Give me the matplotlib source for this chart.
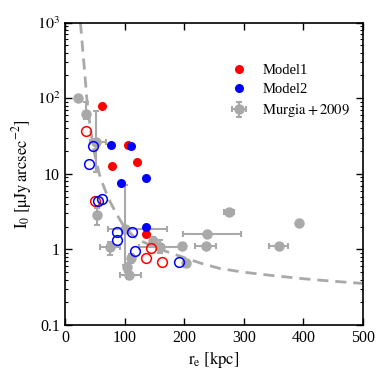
import matplotlib
matplotlib.use('Agg')
import matplotlib.pyplot as plt
from matplotlib.ticker import FixedLocator, FixedFormatter, LogLocator, NullFormatter

plt.rcParams['font.family'] = ['Liberation Serif', 'DejaVu Serif']
plt.rcParams['mathtext.fontset'] = 'stix'

# Murgia et al. 2009 halos: r_e [kpc], I0 [uJy/arcsec^2] and errors
murgia_r = [21.6, 35.6, 51.3, 53.6, 75, 101.5, 111, 104, 107.5, 148, 159, 197, 203, 236, 237.7, 275, 393.6, 359]
murgia_i = [100, 61, 26.7, 2.86, 1.09, 1.85, 0.77, 0.58, 0.46, 1.3, 1.09, 1.12, 0.66, 1.12, 1.6, 3.1, 2.26, 1.12]
murgia_xlo = [0, 0, 10, 0, 17, 30, 0, 0, 15, 0, 34, 0, 0, 17, 40, 8, 0, 16]
murgia_xhi = [0, 0, 18, 0, 17, 69, 0, 0, 20, 0, 39, 0, 0, 17, 57, 8, 0, 16]
murgia_ylo = [0, 8, 16, 0.75, 0.24, 1.23, 0.1, 0.08, 0.05, 0.15, 0.2, 0, 0, 0, 0, 0, 0, 0]
murgia_yhi = [0, 27, 40, 0.65, 0.18, 5.25, 0.1, 0.08, 0.05, 0.15, 0.24, 0, 0, 0, 0, 0, 0, 0]

# Model1 (red) filled / open
m1_r_fill = [62.6, 105.7, 78.8, 121.5, 136.7]
m1_i_fill = [79.8, 24.1, 12.8, 14.5, 1.59]
m1_r_open = [35.6, 49.7, 145, 135.5, 163.6]
m1_i_open = [36.9, 4.43, 1.06, 0.77, 0.69]

# Model2 (blue) filled / open
m2_r_fill = [77.7, 111.4, 94.6, 136.7, 136.7]
m2_i_fill = [24.1, 23.6, 7.65, 8.75, 2.0]
m2_r_open = [46.8, 40, 55.3, 62.6, 87.3, 87.3, 113, 117, 191.6]
m2_i_open = [23.4, 13.5, 4.43, 4.65, 1.69, 1.34, 1.69, 0.96, 0.69]

# dashed limit curve
curve_r = [26, 30, 33, 37, 43, 50, 58, 66, 75, 85, 100, 115, 130, 150, 175, 200, 230, 260, 300, 350, 400, 450, 500]
curve_i = [1000, 420, 230, 92, 38, 18, 9.7, 6.5, 4.4, 3.1, 1.95, 1.5, 1.27, 1.08, 0.91, 0.78, 0.65, 0.56, 0.5, 0.45, 0.41, 0.38, 0.355]

gray = '#a9a9a9'

fig = plt.figure(figsize=(3.82, 3.82), dpi=100)
ax = fig.add_axes([0.170, 0.149, 0.780, 0.792])

ax.plot(curve_r, curve_i, ls='--', color=gray, lw=2, dashes=(4, 2.5), zorder=1)

ax.errorbar(murgia_r, murgia_i, xerr=[murgia_xlo, murgia_xhi], yerr=[murgia_ylo, murgia_yhi],
            fmt='o', color=gray, ms=6.5, elinewidth=1.5, capsize=2.5, capthick=1.5,
            label=r'$\mathrm{Murgia+2009}$', zorder=2)

ax.plot(m1_r_fill, m1_i_fill, 'o', color='red', ms=6.5, mec='none', label='Model1', zorder=3)
ax.plot(m2_r_fill, m2_i_fill, 'o', color='blue', ms=6.5, mec='none', label='Model2', zorder=3)
ax.plot(m1_r_open, m1_i_open, 'o', mfc='none', mec='red', ms=7, mew=1.1, zorder=3)
ax.plot(m2_r_open, m2_i_open, 'o', mfc='none', mec='blue', ms=7, mew=1.1, zorder=3)

ax.set_xlim(0, 500)
ax.set_yscale('log')
ax.set_ylim(0.1, 1000)

ax.xaxis.set_major_locator(FixedLocator([0, 100, 200, 300, 400, 500]))
ax.yaxis.set_major_locator(FixedLocator([0.1, 1, 10, 100, 1000]))
ax.yaxis.set_major_formatter(FixedFormatter(['0.1', '1', '10', r'$10^2$', r'$10^3$']))
ax.yaxis.set_minor_locator(LogLocator(base=10, subs=range(2, 10)))
ax.yaxis.set_minor_formatter(NullFormatter())

ax.tick_params(which='both', direction='in', top=True, right=True, labelsize=11.5)
ax.tick_params(which='major', length=5, width=1)
ax.tick_params(which='minor', length=2.5, width=0.8)
for s in ax.spines.values():
    s.set_linewidth(1.2)

ax.set_xlabel(r'$\mathrm{r_e\ [kpc]}$', fontsize=12, labelpad=2)
ax.set_ylabel(r'$\mathrm{I_0\ [\mu Jy\,arcsec^{-2}]}$', fontsize=12, labelpad=2)

ax.legend(loc='upper right', bbox_to_anchor=(1.017, 0.92), frameon=False, fontsize=10.5,
          handletextpad=0.6, borderaxespad=0.8, labelspacing=0.4)

fig.savefig('out.png', dpi=100)
